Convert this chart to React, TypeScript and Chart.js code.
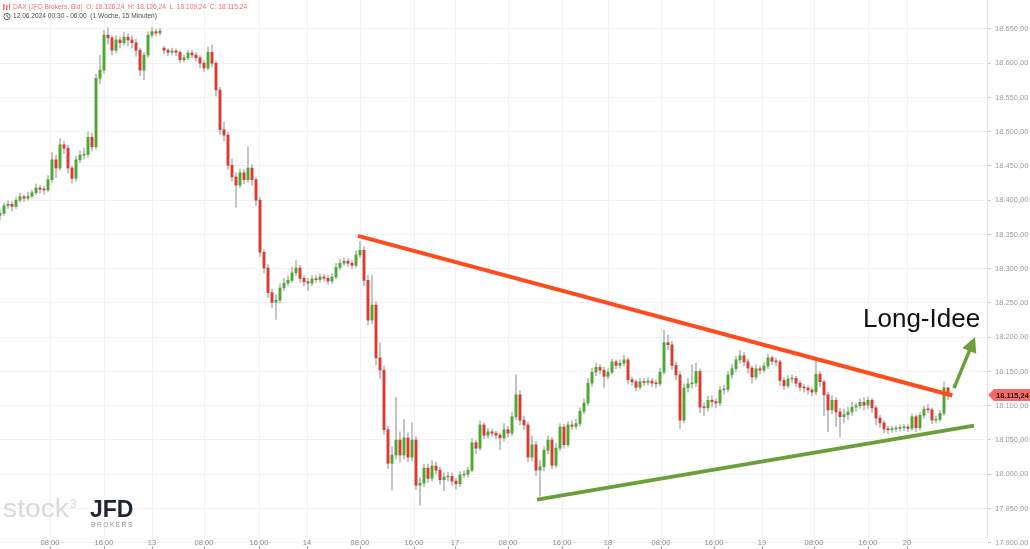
import React, { useEffect, useRef } from "react";
import { Chart, registerables } from "chart.js";

Chart.register(...registerables);

const FONT = '"Liberation Sans", Arial, Helvetica, sans-serif';

// ---- candle data (15-minute DAX CFD, resampled to readable candles) ----
const firstOpen = 18378;
const sessionStartIndex = [41];
const sessionStartOpen = [18622];

const closes = [
  18381, 18392, 18394, 18391, 18400, 18405, 18403, 18406, 18411, 18418,
  18416, 18415, 18430, 18459, 18447, 18481, 18476, 18447, 18432, 18459,
  18466, 18467, 18492, 18478, 18578, 18590, 18641, 18637, 18619, 18634,
  18630, 18638, 18634, 18630, 18619, 18590, 18612, 18641, 18646, 18644,
  18647, 18619, 18616, 18618, 18616, 18605, 18608, 18615, 18612, 18608,
  18600, 18593, 18616, 18600, 18561, 18503, 18495, 18451, 18434, 18422,
  18440, 18430, 18447, 18430, 18400, 18324, 18301, 18265, 18251, 18254,
  18272, 18279, 18283, 18294, 18301, 18286, 18281, 18279, 18285, 18284,
  18288, 18286, 18282, 18288, 18302, 18308, 18311, 18308, 18305, 18320,
  18327, 18283, 18225, 18247, 18170, 18152, 18065, 18016, 18028, 18050,
  18028, 18053, 18025, 18050, 17984, 17987, 18009, 17994, 18012, 18006,
  17992, 17996, 17997, 17990, 17986, 17999, 18000, 18006, 18046, 18038,
  18072, 18057, 18062, 18060, 18057, 18053, 18065, 18060, 18084, 18116,
  18079, 18072, 18025, 18043, 18006, 18011, 18035, 18050, 18013, 18038,
  18069, 18043, 18072, 18070, 18074, 18092, 18104, 18133, 18149, 18156,
  18152, 18143, 18149, 18164, 18159, 18162, 18167, 18138, 18135, 18127,
  18135, 18134, 18136, 18133, 18132, 18149, 18192, 18189, 18159, 18145,
  18079, 18126, 18132, 18133, 18150, 18098, 18097, 18108, 18106, 18104,
  18123, 18124, 18145, 18154, 18167, 18173, 18164, 18155, 18142, 18154,
  18152, 18158, 18170, 18165, 18164, 18137, 18129, 18139, 18140, 18133,
  18127, 18126, 18123, 18120, 18146, 18135, 18116, 18094, 18108, 18091,
  18084, 18087, 18091, 18098, 18100, 18105, 18101, 18108, 18097, 18082,
  18075, 18066, 18065, 18066, 18067, 18068, 18069, 18067, 18084, 18068,
  18086, 18095, 18094, 18079, 18080, 18089, 18126.24, 18115.24,
];

const highs = [
  18385, 18396, 18399, 18398, 18404, 18410, 18408, 18412, 18415, 18424,
  18422, 18420, 18436, 18470, 18466, 18490, 18486, 18480, 18450, 18464,
  18472, 18476, 18500, 18498, 18584, 18612, 18648, 18652, 18640, 18640,
  18638, 18645, 18643, 18640, 18635, 18622, 18616, 18646, 18652, 18650,
  18651, 18625, 18621, 18622, 18621, 18618, 18612, 18619, 18619, 18615,
  18611, 18604, 18624, 18627, 18603, 18565, 18514, 18499, 18460, 18440,
  18446, 18445, 18478, 18452, 18433, 18404, 18328, 18306, 18270, 18262,
  18278, 18286, 18290, 18302, 18312, 18305, 18290, 18286, 18290, 18290,
  18293, 18292, 18290, 18293, 18308, 18314, 18316, 18315, 18312, 18326,
  18340, 18332, 18290, 18290, 18252, 18192, 18158, 18070, 18040, 18112,
  18062, 18080, 18060, 18075, 18055, 17995, 18015, 18015, 18020, 18018,
  18010, 18002, 18003, 18002, 17994, 18004, 18005, 18010, 18052, 18050,
  18078, 18075, 18067, 18066, 18063, 18060, 18074, 18070, 18090, 18145,
  18122, 18085, 18076, 18056, 18048, 18020, 18040, 18056, 18054, 18045,
  18074, 18073, 18077, 18078, 18080, 18097, 18110, 18140, 18155, 18162,
  18160, 18156, 18154, 18168, 18167, 18167, 18174, 18170, 18142, 18138,
  18140, 18140, 18141, 18140, 18138, 18155, 18210, 18203, 18194, 18164,
  18150, 18132, 18140, 18160, 18162, 18154, 18104, 18114, 18115, 18110,
  18128, 18130, 18150, 18160, 18172, 18181, 18178, 18168, 18158, 18160,
  18158, 18163, 18175, 18173, 18170, 18167, 18141, 18144, 18145, 18143,
  18136, 18131, 18129, 18126, 18167, 18150, 18138, 18120, 18115, 18112,
  18096, 18095, 18098, 18105, 18104, 18110, 18112, 18113, 18111, 18100,
  18086, 18078, 18070, 18070, 18071, 18072, 18073, 18072, 18088, 18087,
  18090, 18100, 18102, 18097, 18085, 18093, 18135, 18126.24,
];

const lows = [
  18372, 18378, 18388, 18384, 18388, 18397, 18398, 18400, 18403, 18408,
  18410, 18409, 18412, 18426, 18433, 18444, 18468, 18440, 18425, 18428,
  18455, 18460, 18463, 18472, 18474, 18570, 18585, 18628, 18612, 18615,
  18622, 18626, 18625, 18622, 18610, 18582, 18576, 18608, 18638, 18640,
  18641, 18614, 18611, 18612, 18611, 18601, 18602, 18605, 18608, 18603,
  18594, 18588, 18590, 18595, 18552, 18496, 18487, 18445, 18428, 18390,
  18418, 18424, 18426, 18422, 18392, 18318, 18294, 18258, 18243, 18226,
  18250, 18268, 18275, 18280, 18290, 18280, 18275, 18268, 18275, 18280,
  18280, 18282, 18277, 18278, 18285, 18298, 18305, 18303, 18300, 18302,
  18316, 18275, 18218, 18220, 18160, 18140, 18058, 18008, 17977, 18022,
  18018, 18022, 18018, 18020, 17978, 17955, 17982, 17988, 17990, 18000,
  17985, 17976, 17990, 17984, 17978, 17982, 17995, 17996, 18003, 18030,
  18035, 18052, 18053, 18055, 18052, 18036, 18048, 18054, 18056, 18080,
  18072, 18065, 18018, 18020, 17998, 17968, 18005, 18030, 18008, 18010,
  18034, 18038, 18040, 18065, 18066, 18070, 18088, 18100, 18128, 18144,
  18146, 18126, 18139, 18146, 18154, 18155, 18158, 18132, 18130, 18122,
  18124, 18129, 18130, 18128, 18126, 18129, 18146, 18182, 18153, 18138,
  18067, 18075, 18120, 18126, 18128, 18090, 18085, 18092, 18098, 18097,
  18100, 18117, 18120, 18140, 18150, 18162, 18158, 18148, 18133, 18138,
  18146, 18148, 18154, 18160, 18158, 18130, 18124, 18126, 18134, 18128,
  18122, 18120, 18117, 18114, 18116, 18128, 18085, 18062, 18088, 18070,
  18055, 18075, 18080, 18086, 18092, 18096, 18094, 18096, 18090, 18072,
  18068, 18060, 18059, 18061, 18062, 18063, 18064, 18062, 18064, 18062,
  18064, 18082, 18090, 18074, 18075, 18077, 18086, 18109.24,
];

// ---- axes ----
const xTickPositions = [12.5, 26, 38, 51, 64.75, 76.75, 90, 103.5, 113.75, 127, 140.5, 152, 165.25, 178.5, 190.5, 203.5, 217, 226.75];
const xTickLabels = ["08:00", "16:00", "13", "08:00", "16:00", "14", "08:00", "16:00", "17", "08:00", "16:00", "18", "08:00", "16:00", "19", "08:00", "16:00", "20"];
const yTickValues = [17900, 17950, 18000, 18050, 18100, 18150, 18200, 18250, 18300, 18350, 18400, 18450, 18500, 18550, 18600, 18650];
const xRange = [0, 246.75];
const yRange = [17908.4, 18692.3];

// ---- drawings (in chart value coordinates) ----
const resistanceX = [89.5, 238.1];
const resistanceY = [18348, 18115];
const supportX = [134.25, 243.5];
const supportY = [17963, 18071];
const arrowX = [238.5, 243.75];
const arrowY = [18125.8, 18200.3];
const ideaLabel = "Long-Idee";
const ideaPos = [215.75, 18215];

const headerLine1 = "DAX (JFD Brokers, Bid)  O: 18.126,24  H: 18.126,24  L: 18.109,24  C: 18.115,24";
const headerLine2 = "12.06.2024 00:30 - 06:00  (1 Woche, 15 Minuten)";

const GREEN = "#4fa832";
const RED = "#dc3b33";
const WICK = "#b9b9b9";
const GRID = "#f2f2f2";
const LINE_RED = "#ff4a1c";
const LINE_GREEN = "#6b9f39";

function fmtDE(v: number): string {
  const fixed = Number(v).toFixed(2);
  const parts = fixed.split(".");
  const intPart = parts[0].replace(/\B(?=(\d{3})+(?!\d))/g, ".");
  return intPart + "," + parts[1];
}

const overlayPlugin = {
  id: "overlayPlugin",
  beforeDatasetsDraw(chart: any) {
    const ctx = chart.ctx as CanvasRenderingContext2D;
    ctx.save();
    // watermark logo
    ctx.textBaseline = "alphabetic";
    ctx.fillStyle = "#d9d9d9";
    ctx.font = `26px ${FONT}`;
    const w = ctx.measureText("stock").width;
    ctx.save();
    ctx.translate(3, 517);
    ctx.scale(66 / w, 1);
    ctx.fillText("stock", 0, 0);
    ctx.restore();
    ctx.font = `12px ${FONT}`;
    ctx.fillText("3", 70, 508);
    ctx.fillStyle = "#1f2633";
    ctx.font = `bold 23px ${FONT}`;
    ctx.fillText("JFD", 90, 517);
    ctx.fillStyle = "#8d8d8d";
    ctx.font = `6.5px ${FONT}`;
    (ctx as any).letterSpacing = "1.6px";
    ctx.fillText("BROKERS", 91, 527);
    (ctx as any).letterSpacing = "0px";
    ctx.restore();
  },
  afterDraw(chart: any) {
    const ctx = chart.ctx as CanvasRenderingContext2D;
    const xs = chart.scales.x;
    const ys = chart.scales.y;
    ctx.save();

    // header
    ctx.textBaseline = "middle";
    ctx.font = `6.6px ${FONT}`;
    ctx.fillStyle = "#ef6f6f";
    ctx.fillText(headerLine1, 13, 7);
    ctx.fillRect(3, 4, 1.5, 6);
    ctx.fillRect(6, 5, 1.5, 5);
    ctx.fillRect(9, 3.5, 1, 6);
    ctx.fillStyle = "#4d4d4d";
    ctx.fillText(headerLine2, 13, 16.5);
    ctx.strokeStyle = "#4d4d4d";
    ctx.lineWidth = 0.9;
    ctx.beginPath();
    ctx.arc(7, 16.5, 3.2, 0, Math.PI * 2);
    ctx.moveTo(7, 14.5);
    ctx.lineTo(7, 16.7);
    ctx.lineTo(8.6, 17.6);
    ctx.stroke();

    // bottom tick marks
    ctx.strokeStyle = "#a8a8a8";
    ctx.lineWidth = 1;
    xTickPositions.forEach((v) => {
      const px = Math.round(xs.getPixelForValue(v)) + 0.5;
      ctx.beginPath();
      ctx.moveTo(px, 546);
      ctx.lineTo(px, 549);
      ctx.stroke();
    });

    // arrow
    const ax0 = xs.getPixelForValue(arrowX[0]);
    const ay0 = ys.getPixelForValue(arrowY[0]);
    const ax1 = xs.getPixelForValue(arrowX[1]);
    const ay1 = ys.getPixelForValue(arrowY[1]);
    const dx = ax1 - ax0;
    const dy = ay1 - ay0;
    const len = Math.hypot(dx, dy);
    const ux = dx / len;
    const uy = dy / len;
    const headLen = 15;
    const headW = 7.5;
    const bx = ax1 - ux * headLen;
    const by = ay1 - uy * headLen;
    ctx.strokeStyle = LINE_GREEN;
    ctx.fillStyle = LINE_GREEN;
    ctx.lineWidth = 3.5;
    ctx.beginPath();
    ctx.moveTo(ax0, ay0);
    ctx.lineTo(bx + ux * 2, by + uy * 2);
    ctx.stroke();
    ctx.beginPath();
    ctx.moveTo(ax1, ay1);
    ctx.lineTo(bx - uy * headW, by + ux * headW);
    ctx.lineTo(bx + uy * headW, by - ux * headW);
    ctx.closePath();
    ctx.fill();

    // idea label
    ctx.fillStyle = "#111111";
    ctx.font = `26px ${FONT}`;
    ctx.textBaseline = "alphabetic";
    ctx.fillText(ideaLabel, xs.getPixelForValue(ideaPos[0]), ys.getPixelForValue(ideaPos[1]));

    // price tag
    const last = closes[closes.length - 1];
    const py = Math.round(ys.getPixelForValue(last));
    const left = chart.chartArea.right + 1;
    ctx.fillStyle = "#f26a6a";
    ctx.beginPath();
    ctx.moveTo(left, py);
    ctx.lineTo(left + 6, py - 6);
    ctx.lineTo(1030, py - 6);
    ctx.lineTo(1030, py + 6);
    ctx.lineTo(left + 6, py + 6);
    ctx.closePath();
    ctx.fill();
    ctx.fillStyle = "#2b0d0d";
    ctx.font = `bold 7.5px ${FONT}`;
    ctx.textBaseline = "middle";
    ctx.fillText(fmtDE(last), left + 8, py + 0.5);

    ctx.restore();
  },
};

export default function App() {
  const ref = useRef<HTMLCanvasElement>(null);

  useEffect(() => {
    const canvas = ref.current;
    if (!canvas) return;

    const opens = closes.map((c, i) => {
      const b = sessionStartIndex.indexOf(i);
      if (b >= 0) return sessionStartOpen[b];
      return i === 0 ? firstOpen : closes[i - 1];
    });
    const bodyData = closes.map((c, i) => ({ x: i, y: [opens[i], c] }));
    const wickData = closes.map((c, i) => ({ x: i, y: [lows[i], highs[i]] }));
    const bodyColors = closes.map((c, i) => (c >= opens[i] ? GREEN : RED));

    const chart = new Chart(canvas, {
      type: "bar",
      data: {
        datasets: [
          {
            type: "line",
            label: "Widerstand",
            data: resistanceX.map((x, i) => ({ x, y: resistanceY[i] })),
            borderColor: LINE_RED,
            borderWidth: 4,
            pointRadius: 0,
            fill: false,
            tension: 0,
            order: 0,
          } as any,
          {
            type: "line",
            label: "Unterstützung",
            data: supportX.map((x, i) => ({ x, y: supportY[i] })),
            borderColor: LINE_GREEN,
            borderWidth: 4,
            pointRadius: 0,
            fill: false,
            tension: 0,
            order: 0,
          } as any,
          {
            type: "bar",
            label: "Kerzen",
            data: bodyData,
            backgroundColor: bodyColors,
            borderWidth: 0,
            barThickness: 2.3,
            grouped: false,
            minBarLength: 1,
            order: 1,
          } as any,
          {
            type: "bar",
            label: "Dochte",
            data: wickData,
            backgroundColor: WICK,
            borderWidth: 0,
            barThickness: 1,
            grouped: false,
            order: 2,
          } as any,
        ],
      },
      options: {
        responsive: false,
        animation: false,
        events: [],
        layout: { padding: 0 },
        plugins: { legend: { display: false }, tooltip: { enabled: false } },
        scales: {
          x: {
            type: "linear",
            min: xRange[0],
            max: xRange[1],
            offset: false,
            afterBuildTicks: (s: any) => {
              s.ticks = xTickPositions.map((v) => ({ value: v }));
            },
            afterFit: (s: any) => {
              s.height = 12;
              s.paddingLeft = 0;
              s.paddingRight = 0;
            },
            grid: { color: GRID, drawTicks: false, offset: false },
            border: { display: false },
            ticks: {
              autoSkip: false,
              maxRotation: 0,
              minRotation: 0,
              padding: 1.5,
              color: "#8a8a8a",
              font: { size: 7.5, family: FONT },
              callback: (_v: any, i: number) => xTickLabels[i],
            },
          },
          y: {
            type: "linear",
            position: "right",
            min: yRange[0],
            max: yRange[1],
            beginAtZero: false,
            afterBuildTicks: (s: any) => {
              s.ticks = yTickValues.map((v) => ({ value: v }));
            },
            afterFit: (s: any) => {
              s.width = 43;
              s.paddingTop = 0;
              s.paddingBottom = 0;
            },
            grid: { color: GRID, tickColor: "#c8c8c8", tickLength: 4 },
            border: { color: "#e4e4e4" },
            ticks: {
              padding: 4,
              color: "#9d9d9d",
              font: { size: 7.5, family: FONT },
              callback: (v: any) => fmtDE(Number(v)),
            },
          },
        },
      } as any,
      plugins: [overlayPlugin],
    });

    return () => chart.destroy();
  }, []);

  return (
    <div style={{ position: "fixed", left: 0, top: 0, width: 1030, height: 549, background: "#ffffff" }}>
      <canvas ref={ref} width={1030} height={549} style={{ display: "block", width: 1030, height: 549 }} />
    </div>
  );
}
